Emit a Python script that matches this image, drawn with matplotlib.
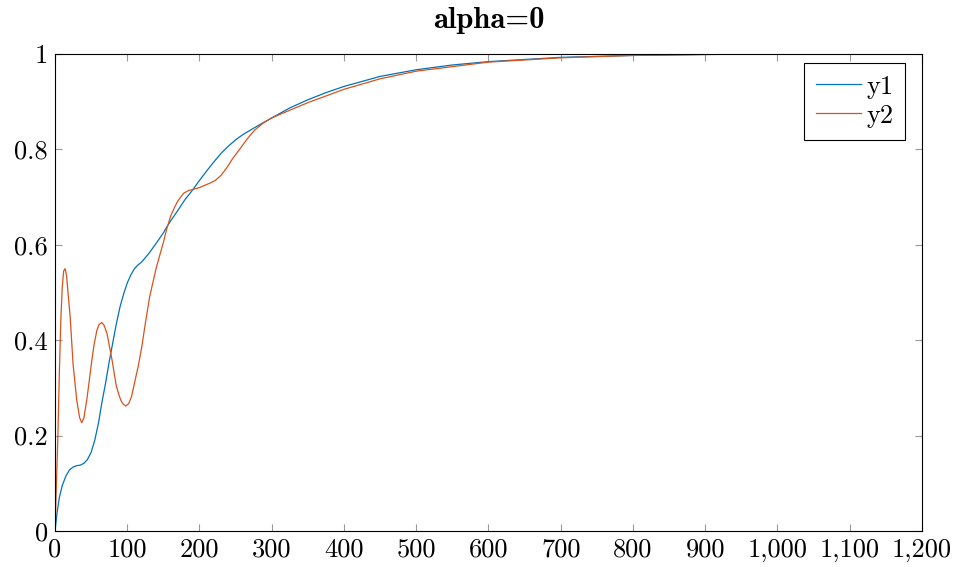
import matplotlib
matplotlib.use("Agg")
import matplotlib.pyplot as plt
from matplotlib.ticker import FuncFormatter, MultipleLocator

# values
x1 = [0, 3, 6, 10, 15, 20, 25, 30, 35, 40, 45, 50, 55, 60, 65, 70, 75, 80, 85,
      90, 95, 100, 105, 110, 115, 120, 130, 140, 150, 155, 160, 170, 180, 190,
      200, 210, 220, 230, 240, 250, 260, 280, 300, 325, 350, 375, 400, 450,
      500, 550, 600, 700, 800, 900, 1000]
y1 = [0, 0.04, 0.07, 0.095, 0.115, 0.128, 0.134, 0.137, 0.138, 0.142, 0.15,
      0.165, 0.19, 0.225, 0.27, 0.31, 0.355, 0.395, 0.435, 0.47, 0.497, 0.52,
      0.537, 0.55, 0.558, 0.564, 0.582, 0.603, 0.625, 0.638, 0.65, 0.672,
      0.695, 0.714, 0.735, 0.755, 0.774, 0.792, 0.807, 0.82, 0.831, 0.849,
      0.866, 0.887, 0.904, 0.919, 0.932, 0.953, 0.967, 0.977, 0.984, 0.993,
      0.997, 0.999, 1.0]

x2 = [0, 2, 4, 6, 8, 10, 12, 14, 16, 18, 21, 25, 30, 34, 37, 40, 44, 47, 51,
      54, 58, 61, 65, 68, 72, 75, 79, 82, 85, 89, 92, 95, 98, 102, 106, 110,
      115, 120, 125, 131, 140, 150, 155, 160, 165, 170, 178, 185, 191, 200,
      214, 222, 230, 238, 246, 256, 266, 276, 288, 300, 320, 350, 400, 450,
      500, 600, 700, 800, 900, 1000]
y2 = [0, 0.1, 0.2, 0.33, 0.44, 0.51, 0.545, 0.55, 0.535, 0.5, 0.449, 0.35,
      0.275, 0.238, 0.227, 0.237, 0.275, 0.31, 0.358, 0.39, 0.421, 0.433,
      0.437, 0.431, 0.414, 0.39, 0.358, 0.33, 0.303, 0.283, 0.271, 0.265,
      0.262, 0.267, 0.282, 0.31, 0.344, 0.385, 0.435, 0.491, 0.551, 0.605,
      0.635, 0.66, 0.677, 0.692, 0.708, 0.714, 0.716, 0.72, 0.729, 0.735,
      0.746, 0.762, 0.781, 0.801, 0.822, 0.84, 0.855, 0.866, 0.879, 0.898,
      0.926, 0.948, 0.964, 0.983, 0.992, 0.997, 0.999, 1.0]

plt.rcParams['font.family'] = 'cmr10'
plt.rcParams['axes.formatter.use_mathtext'] = True

fig = plt.figure(figsize=(9.56, 5.67), dpi=100)
ax = fig.add_axes([55 / 956, 1 - 531 / 567, 867 / 956, 477 / 567])

ax.plot(x1, y1, color='#0072BD', lw=0.9, label='y1')
ax.plot(x2, y2, color='#D95319', lw=0.9, label='y2')

ax.set_xlim(0, 1200)
ax.set_ylim(0, 1)
ax.xaxis.set_major_locator(MultipleLocator(100))
ax.yaxis.set_major_locator(MultipleLocator(0.2))
ax.xaxis.set_major_formatter(FuncFormatter(lambda v, p: f"{int(round(v)):,}"))
ax.yaxis.set_major_formatter(FuncFormatter(lambda v, p: f"{v:g}"))

ax.tick_params(direction='in', top=True, right=True, length=5, width=0.8,
               color='#999999', labelsize=19, labelcolor='black', pad=5)
for s in ax.spines.values():
    s.set_linewidth(0.8)

ax.set_title('alpha=0', fontfamily='cmb10', fontsize=22, pad=19)

leg = ax.legend(loc='upper right', bbox_to_anchor=(0.9804, 0.9811),
                borderaxespad=0, fontsize=19, fancybox=False,
                edgecolor='black', framealpha=1, handlelength=1.7,
                handletextpad=0.2, labelspacing=0.2, borderpad=0.45)
leg.get_frame().set_linewidth(0.8)

fig.savefig('out.png', dpi=100)
